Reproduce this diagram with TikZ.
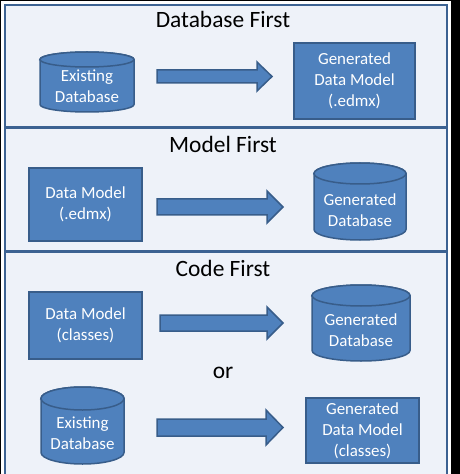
\documentclass[tikz,border=0pt]{standalone}
\usepackage{fontspec}
\setmainfont{Carlito}
\definecolor{panelfill}{HTML}{EEF2F9}
\definecolor{panelline}{HTML}{3C6292}
\definecolor{shapefill}{HTML}{4F81BD}
\definecolor{shapeline}{HTML}{385D8A}
\begin{document}
\begin{tikzpicture}[x=1bp,y=-1bp,
  panel/.style={fill=panelfill,draw=panelline,line width=2bp},
  titletext/.style={font=\fontsize{23.5}{27}\selectfont,anchor=base,inner sep=0pt},
  blockbox/.style={draw=shapeline,fill=shapefill,line width=1.5bp,text=white,align=center,
    font=\fontsize{17}{21}\selectfont,inner sep=0pt},
  cyltext/.style={text=white,align=center,font=\fontsize{17}{21}\selectfont,inner sep=0pt},
  cylbody/.style={draw=shapeline,fill=shapefill,line width=1.5bp},
  blockarrow/.style={draw=shapeline,fill=shapefill,line width=1.5bp,line join=miter}]
\useasboundingbox (0,0) rectangle (460,474);
\fill[black] (0,0) rectangle (460,474);
\fill[white] (1,1) rectangle (451,474);
% panels
\draw[panel] (5,5) rectangle (447,127.5);
\draw[panel] (5,128.5) rectangle (447,251);
\draw[panel] (5,252) rectangle (447,490);
% titles
\node[titletext] (t1) at (223,27.3) {Database First};
\node[titletext] (t2) at (223,152.7) {Model First};
\node[titletext] (t3) at (223,276) {Code First};
\node[titletext] (or) at (223,378) {or};
% ---- Database First
\path[cylbody] (40,59.5) -- (40,104.5) arc[start angle=180,end angle=360,x radius=47bp,y radius=7.5bp] -- (134,59.5) arc[start angle=0,end angle=180,x radius=47bp,y radius=7.5bp] -- cycle;
\draw[cylbody] (87,59.5) ellipse[x radius=47bp,y radius=7.5bp];
\node[cyltext] (db1) at (87,86) {Existing\\Database};
\node[blockbox,minimum width=121bp,minimum height=76bp] (dm1) at (354.5,81) {Generated\\Data Model\\(.edmx)};
\path[blockarrow] (157,70) -- (257,70) -- (257,62) -- (272,76.5) -- (257,91) -- (257,83) -- (157,83) -- cycle;
% ---- Model First
\node[blockbox,minimum width=113bp,minimum height=73bp] (dm2) at (85.5,204.5) {Data Model\\(.edmx)};
\path[blockarrow] (157,199) -- (267,199) -- (267,191) -- (283,207) -- (267,223) -- (267,215) -- (157,215) -- cycle;
\path[cylbody] (314,173.5) -- (314,229.5) arc[start angle=180,end angle=360,x radius=46bp,y radius=10.5bp] -- (406,173.5) arc[start angle=0,end angle=180,x radius=46bp,y radius=10.5bp] -- cycle;
\draw[cylbody] (360,173.5) ellipse[x radius=46bp,y radius=10.5bp];
\node[cyltext] (db2) at (360,210) {Generated\\Database};
% ---- Code First
\node[blockbox,minimum width=113bp,minimum height=67bp] (dm3) at (85.5,325.5) {Data Model\\(classes)};
\path[blockarrow] (160,315) -- (267,315) -- (267,307) -- (283,323) -- (267,339) -- (267,331) -- (160,331) -- cycle;
\path[cylbody] (312,295.5) -- (312,350.5) arc[start angle=180,end angle=360,x radius=49bp,y radius=10.5bp] -- (410,295.5) arc[start angle=0,end angle=180,x radius=49bp,y radius=10.5bp] -- cycle;
\draw[cylbody] (361,295.5) ellipse[x radius=49bp,y radius=10.5bp];
\node[cyltext] (db3) at (361,330.5) {Generated\\Database};
% ---- or
\path[cylbody] (41,398.5) -- (41,452.5) arc[start angle=180,end angle=360,x radius=41.5bp,y radius=11.5bp] -- (124,398.5) arc[start angle=0,end angle=180,x radius=41.5bp,y radius=11.5bp] -- cycle;
\draw[cylbody] (82.5,398.5) ellipse[x radius=41.5bp,y radius=11.5bp];
\node[cyltext] (db4) at (82.5,433.5) {Existing\\Database};
\path[blockarrow] (157,419) -- (266,419) -- (266,410) -- (283,427.5) -- (266,445) -- (266,436) -- (157,436) -- cycle;
\node[blockbox,minimum width=113bp,minimum height=65bp] (dm4) at (362.5,430.5) {Generated\\Data Model\\(classes)};
\end{tikzpicture}
\end{document}
